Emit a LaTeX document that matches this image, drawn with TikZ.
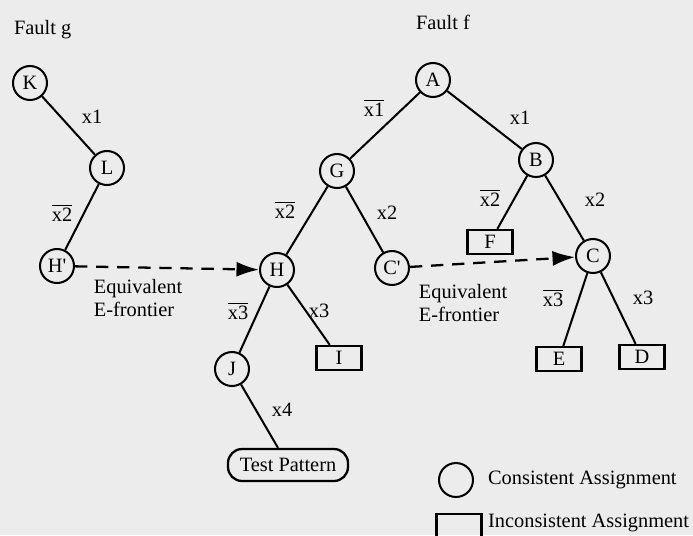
\documentclass[tikz,border=0pt]{standalone}
\usepackage{fontspec}
\setmainfont{Liberation Serif}
\usepackage{tikz}
\usetikzlibrary{arrows.meta, positioning, calc}
\definecolor{paper}{RGB}{236, 236, 236}
\newcommand{\nx}[1]{$\overline{\mbox{x#1}}$}

\begin{document}
\begin{tikzpicture}[
    x=0.02cm, y=-0.02cm,
    font=\fontsize{11.6}{13}\selectfont,
    cons/.style={draw, circle, line width=1.15pt, minimum size=0.68cm, inner sep=0pt},
    incons/.style={draw, rectangle, line width=1.3pt, minimum width=0.9cm, minimum height=0.48cm, inner sep=0pt},
    testpat/.style={draw, rounded corners=8pt, line width=1.3pt, minimum width=2.4cm, minimum height=0.64cm},
    edge/.style={line width=1.15pt},
    equiv/.style={dashed, line width=1.3pt, dash pattern=on 7pt off 5pt, -{Latex[length=4.5mm, width=3mm]}},
    lbl/.style={inner sep=1pt}
]

% Background
\fill[paper] (0,0) rectangle (693,535);
\useasboundingbox (0,0) rectangle (693,535);

% Titles
\node[lbl, anchor=west] (fg) at (12,30) {Fault g};
\node[lbl, anchor=west] (ff) at (414,22) {Fault f};

% Fault g tree
\node[cons] (K) at (30,83) {K};
\node[cons] (L) at (107,168) {L};
\node[cons] (Hp) at (57,266) {H\textquotesingle};

% Fault f tree
\node[cons] (A) at (433,80) {A};
\node[cons] (G) at (337,171) {G};
\node[cons] (B) at (536,160) {B};
\node[incons] (F) at (490,242) {F};
\node[cons] (C) at (593,256) {C};
\node[cons] (H) at (277,270) {H};
\node[cons] (Cp) at (392,268) {C\textquotesingle};
\node[cons] (J) at (232,369) {J};
\node[incons] (I) at (339,358) {I};
\node[incons] (E) at (559,359) {E};
\node[incons] (D) at (642,357) {D};
\node[testpat] (tp) at (288,465) {Test Pattern};

% Edges
\draw[edge] (K) -- (L);
\draw[edge] (L) -- (Hp);
\draw[edge] (A) -- (G);
\draw[edge] (A) -- (B);
\draw[edge] (G) -- (H);
\draw[edge] (G) -- (Cp);
\draw[edge] (B) -- (F);
\draw[edge] (B) -- (C);
\draw[edge] (C) -- (E);
\draw[edge] (C) -- (D);
\draw[edge] (H) -- (J);
\draw[edge] (H) -- (I);
\draw[edge] (J) -- (tp);

% Edge labels
\node[lbl] (lkl) at (92,117) {x1};
\node[lbl] (llh) at (62,213) {\nx2};
\node[lbl] (lag) at (374,108) {\nx1};
\node[lbl] (lab) at (520,118) {x1};
\node[lbl] (lgh) at (285,210) {\nx2};
\node[lbl] (lgc) at (387,213) {x2};
\node[lbl] (lbf) at (490,198) {\nx2};
\node[lbl] (lbc) at (595,200) {x2};
\node[lbl] (lce) at (553,298) {\nx3};
\node[lbl] (lcd) at (643,298) {x3};
\node[lbl] (lhj) at (238,311) {\nx3};
\node[lbl] (lhi) at (319,311) {x3};
\node[lbl] (ljt) at (282,410) {x4};

% Equivalent E-frontiers
\draw[equiv] (Hp) -- (H);
\draw[equiv] (Cp) -- (C);
\node[lbl, align=left] (eq1) at (138,298) {Equivalent\\E-frontier};
\node[lbl, align=left] (eq2) at (463,303) {Equivalent\\E-frontier};

% Legend
\node[cons] (lgc1) at (456,480) {};
\node[lbl, anchor=west] (lgt1) at (486,480) {Consistent Assignment};
\node[incons, minimum height=0.55cm] (lgb) at (459,528) {};
\node[lbl, anchor=west] (lgt2) at (486,523) {Inconsistent Assignment};

\end{tikzpicture}
\end{document}
